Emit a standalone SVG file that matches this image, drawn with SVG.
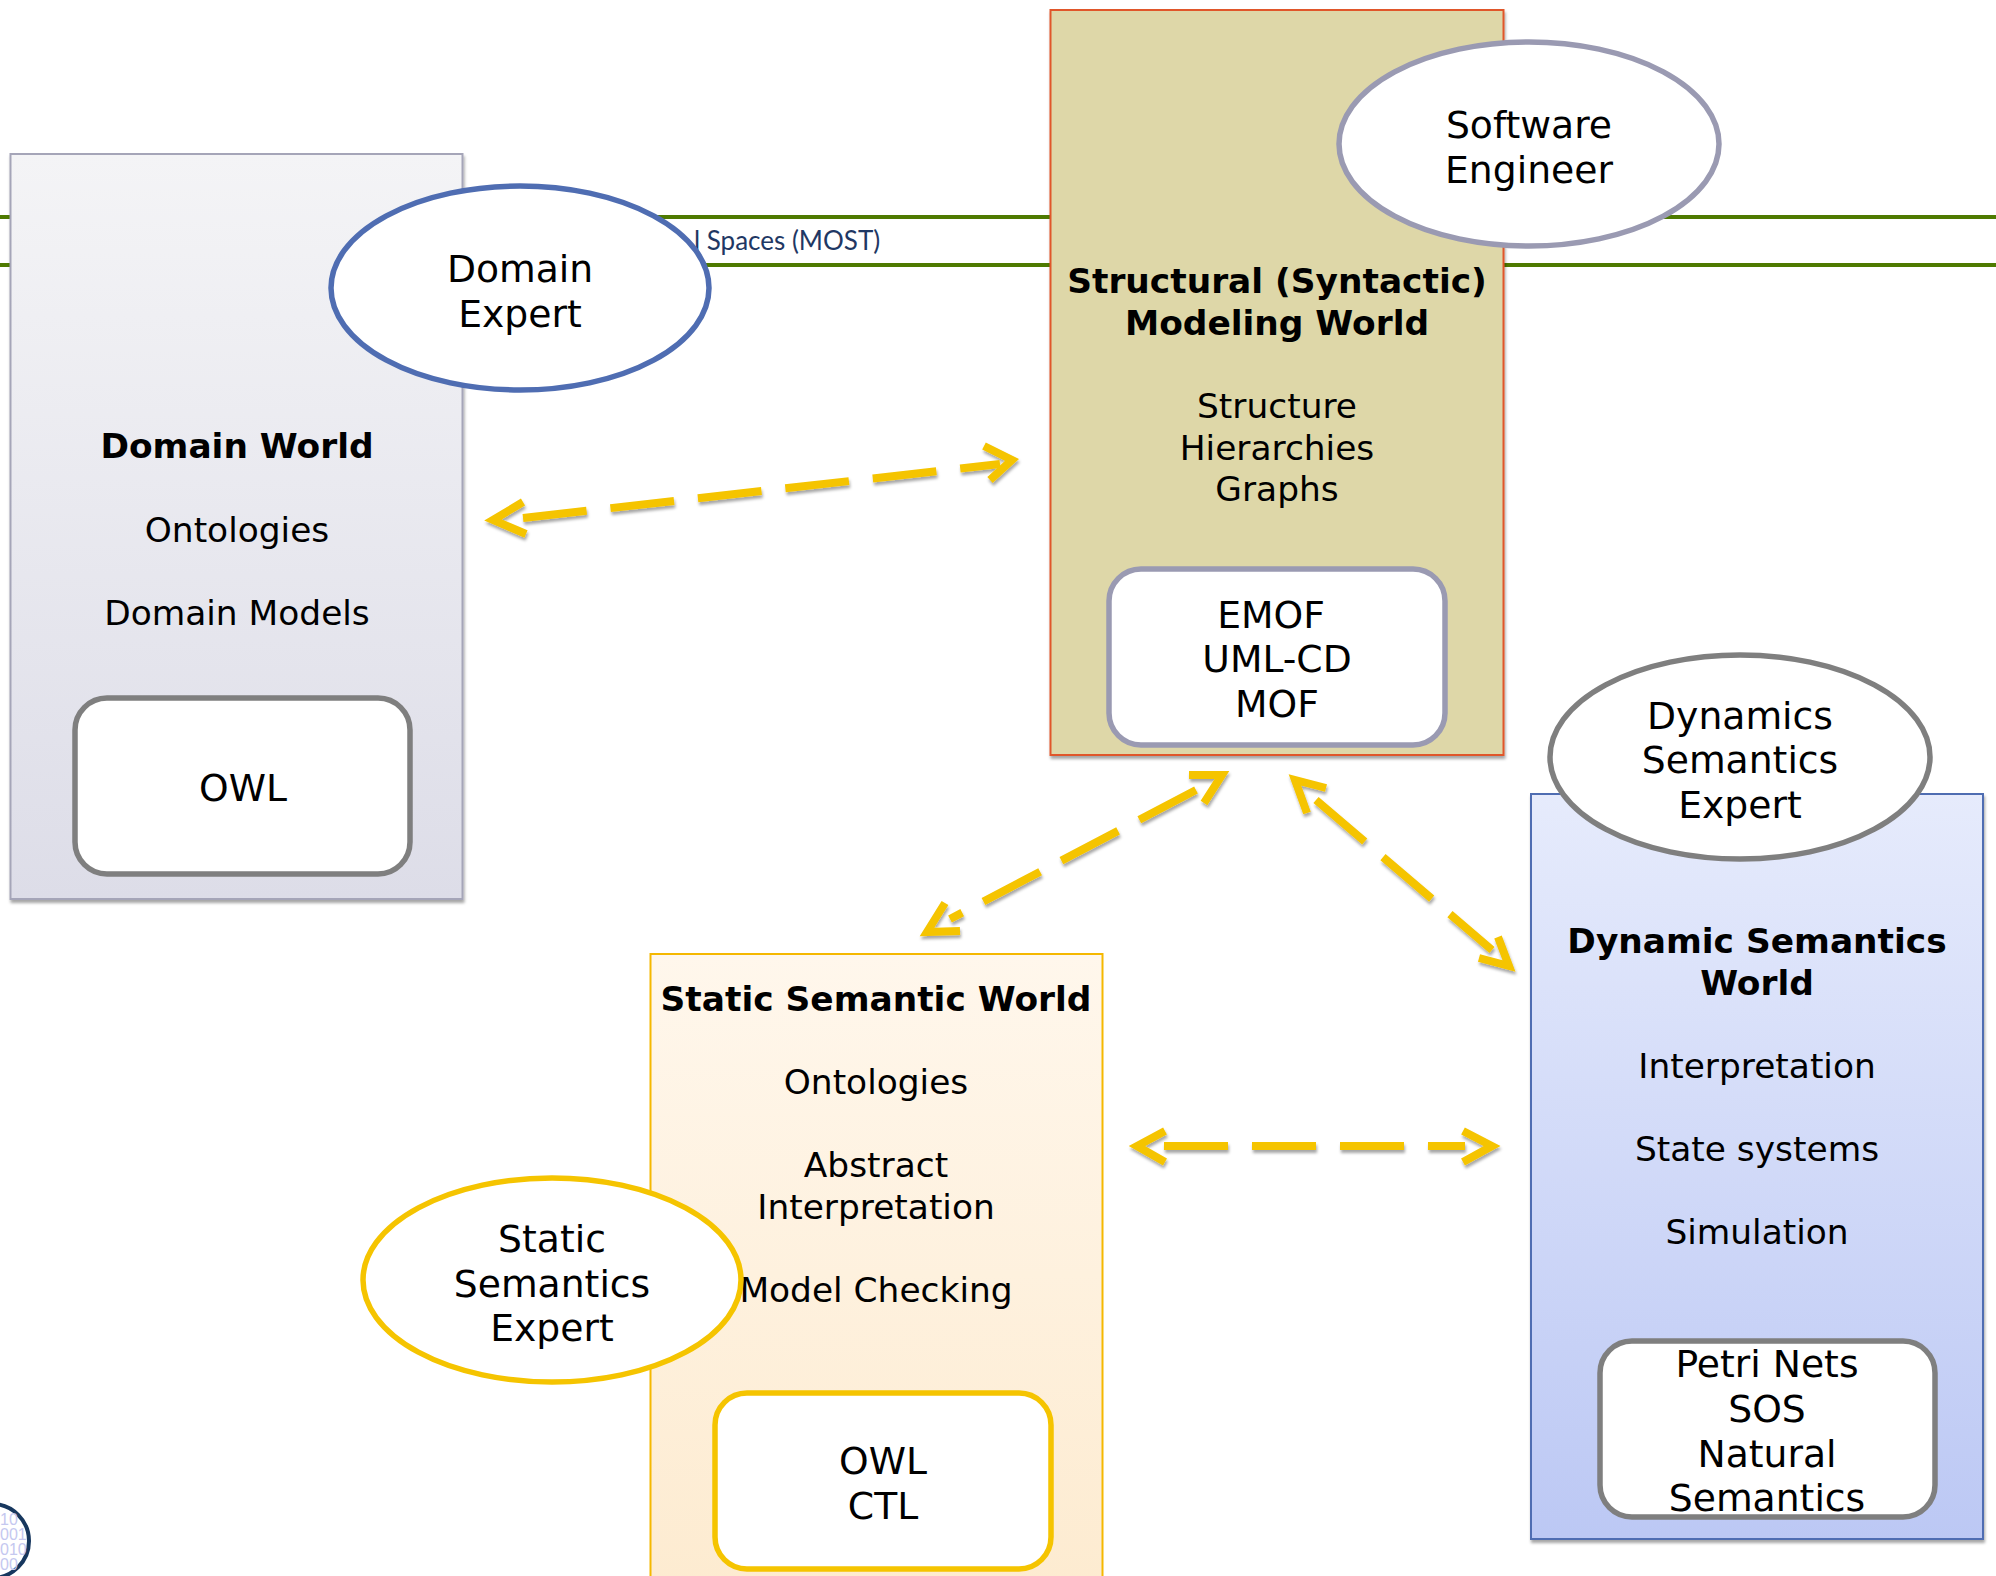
<svg xmlns="http://www.w3.org/2000/svg" width="1996" height="1576" viewBox="0 0 1996 1576">
<style>
text{font-family:"DejaVu Sans",Verdana,sans-serif;font-size:34.400px;fill:#000;text-anchor:middle}
.e{font-size:37.700px}
.b{font-weight:bold;font-size:34.400px}
.r{stroke-width:5.500px;fill:#fff}
.c{fill:none;stroke:#f5c400;stroke-width:8px;stroke-dasharray:64 24}
.h{fill:none;stroke:#f5c400;stroke-width:8px}
.g{stroke:#4e7a00;stroke-width:4px}
.d{font-family:"Liberation Sans",sans-serif;font-size:16px;fill:#c5c8f0;text-anchor:start}
</style>
<defs>
<linearGradient id="g1" x1="0" y1="0" x2="0" y2="1"><stop offset="0" stop-color="#f4f4f6"/><stop offset="1" stop-color="#dddde8"/></linearGradient>
<linearGradient id="g2" x1="0" y1="0" x2="0" y2="1"><stop offset="0" stop-color="#fff7ec"/><stop offset="1" stop-color="#fdebd0"/></linearGradient>
<linearGradient id="g3" x1="0" y1="0" x2="0" y2="1"><stop offset="0" stop-color="#e6ebfc"/><stop offset="1" stop-color="#bcc8f4"/></linearGradient>
<filter id="s" filterUnits="userSpaceOnUse" x="0" y="0" width="1996" height="1576"><feDropShadow dx="1" dy="3" stdDeviation="1.500" flood-color="#000" flood-opacity=".35"/></filter>
</defs>
<g id="background">
<line class="g" x1="0" y1="217" x2="1996" y2="217"/>
<line class="g" x1="0" y1="265" x2="1996" y2="265"/>
<text x="694" y="250" style="font-family:Lato,sans-serif;font-size:26px;fill:#1f3864;text-anchor:start">l Spaces (MOST)</text>
</g>
<g id="logo">
<circle cx="-8" cy="1541" r="37" fill="#fff" stroke="#17375e" stroke-width="4"/>
<text class="d" x="0" y="1525">10</text>
<text class="d" x="0" y="1540">001</text>
<text class="d" x="0" y="1555">010</text>
<text class="d" x="0" y="1570">00</text>
</g>
<g id="domain-world">
<rect x="10.500" y="154" width="452" height="745" fill="url(#g1)" stroke="#a5a5b8" stroke-width="2" filter="url(#s)"/>
<text class="b" x="237" y="458">Domain World</text>
<text x="237" y="542">Ontologies</text>
<text x="237" y="625">Domain Models</text>
<rect class="r" x="75" y="698" width="335" height="176" rx="32" stroke="#7f7f7f"/>
<text class="e" x="243" y="801">OWL</text>
</g>
<g id="domain-expert">
<ellipse cx="520" cy="288" rx="189" ry="102" fill="#fff" stroke="#4f6db2" stroke-width="5.500"/>
<text class="e" x="520" y="282">Domain</text>
<text class="e" x="520" y="327">Expert</text>
</g>
<g id="structural-world">
<rect x="1050.500" y="10" width="453" height="745" fill="#ded7a8" stroke="#e0562a" stroke-width="2" filter="url(#s)"/>
<text class="b" x="1277" y="293">Structural (Syntactic)</text>
<text class="b" x="1277" y="335">Modeling World</text>
<text x="1277" y="418">Structure</text>
<text x="1277" y="460">Hierarchies</text>
<text x="1277" y="501">Graphs</text>
<rect class="r" x="1109" y="569" width="336" height="176" rx="32" stroke="#9a9ab2"/>
<text class="e" x="1271" y="628">EMOF</text>
<text class="e" x="1277" y="672">UML-CD</text>
<text class="e" x="1277" y="717">MOF</text>
</g>
<g id="software-engineer">
<ellipse cx="1529" cy="144" rx="190" ry="102" fill="#fff" stroke="#9a9ab2" stroke-width="5.500"/>
<text class="e" x="1529" y="138">Software</text>
<text class="e" x="1529" y="183">Engineer</text>
</g>
<g id="dynamic-world">
<rect x="1531" y="794" width="452" height="745" fill="url(#g3)" stroke="#4f6db2" stroke-width="2" filter="url(#s)"/>
<text class="b" x="1757" y="953">Dynamic Semantics</text>
<text class="b" x="1757" y="995">World</text>
<text x="1757" y="1078">Interpretation</text>
<text x="1757" y="1161">State systems</text>
<text x="1757" y="1244">Simulation</text>
<rect class="r" x="1600" y="1341" width="335" height="176" rx="32" stroke="#7f7f7f"/>
<text class="e" x="1767" y="1377">Petri Nets</text>
<text class="e" x="1767" y="1422">SOS</text>
<text class="e" x="1767" y="1467">Natural</text>
<text class="e" x="1767" y="1511">Semantics</text>
</g>
<g id="dynamics-expert">
<ellipse cx="1740" cy="757" rx="190" ry="102" fill="#fff" stroke="#7f7f7f" stroke-width="5.500"/>
<text class="e" x="1740" y="729">Dynamics</text>
<text class="e" x="1740" y="773">Semantics</text>
<text class="e" x="1740" y="818">Expert</text>
</g>
<g id="static-world">
<rect x="650.500" y="954" width="452" height="640" fill="url(#g2)" stroke="#f5b800" stroke-width="2"/>
<text class="b" x="876" y="1011">Static Semantic World</text>
<text x="876" y="1094">Ontologies</text>
<text x="876" y="1177">Abstract</text>
<text x="876" y="1219">Interpretation</text>
<text x="876" y="1302">Model Checking</text>
<rect class="r" x="715" y="1393" width="336" height="176" rx="32" stroke="#f5c400"/>
<text class="e" x="883" y="1474">OWL</text>
<text class="e" x="883" y="1519">CTL</text>
</g>
<g id="static-expert">
<ellipse cx="552" cy="1280" rx="189" ry="102" fill="#fff" stroke="#f5c400" stroke-width="5.500"/>
<text class="e" x="552" y="1252">Static</text>
<text class="e" x="552" y="1297">Semantics</text>
<text class="e" x="552" y="1341">Expert</text>
</g>
<g id="connectors" filter="url(#s)">
<path class="c" d="M523 518 L1000 464"/>
<path class="h" d="M523 502 L493 520 L526 534"/>
<path class="h" d="M984 446 L1012 460 L990 480"/>
<path class="c" d="M1196 790 L950 919"/>
<path class="h" d="M945 903 L927 932 L960 931"/>
<path class="h" d="M1189 775 L1222 775 L1204 803"/>
<path class="c" d="M1316 800 L1492 950"/>
<path class="h" d="M1307 813 L1295 780 L1326 788"/>
<path class="h" d="M1498 937 L1509 966 L1479 958"/>
<path class="c" d="M1164 1146 L1465 1146"/>
<path class="h" d="M1165 1131 L1137 1146 L1165 1162"/>
<path class="h" d="M1463 1131 L1492 1146 L1463 1162"/>
</g>
</svg>
